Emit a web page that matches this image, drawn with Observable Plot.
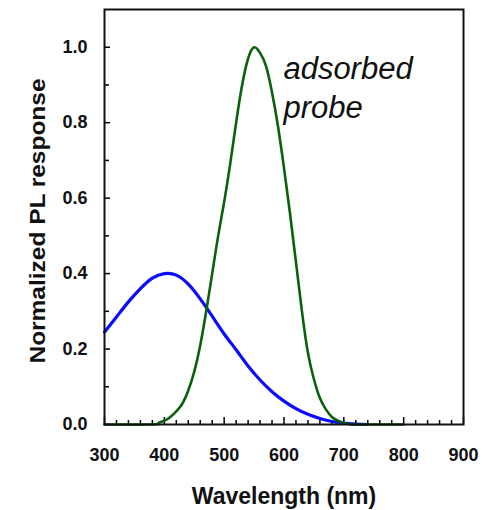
<!DOCTYPE html>
<html>
<head>
<meta charset="utf-8">
<script src="https://cdn.jsdelivr.net/npm/d3@7"></script>
<script src="https://cdn.jsdelivr.net/npm/@observablehq/plot@0.6"></script>
<style>
  html, body { margin: 0; padding: 0; background: #fff; }
  svg { font-family: "Liberation Sans", Arial, sans-serif; }
</style>
</head>
<body>
<div id="chart"></div>
<script>
// Blue curve (free probe)
const blueWavelength = [300, 320, 340, 360, 380, 400, 420, 440, 460, 480, 500, 520, 540, 560, 580, 600, 620, 640, 660, 680, 700, 720, 740];
const blueValue      = [0.245, 0.285, 0.325, 0.36, 0.388, 0.40, 0.396, 0.372, 0.333, 0.287, 0.24, 0.198, 0.155, 0.118, 0.087, 0.062, 0.042, 0.027, 0.016, 0.008, 0.004, 0.001, 0];

// Green curve (adsorbed probe)
const greenWavelength = [300, 380, 390, 400, 410, 420, 430, 440, 450, 460, 470, 480, 490, 500, 510, 520, 530, 540, 550, 560, 570, 580, 590, 600, 610, 620, 630, 640, 650, 660, 670, 680, 690, 700, 710, 720, 800];
const greenValue      = [0, 0, 0.004, 0.01, 0.02, 0.035, 0.055, 0.09, 0.14, 0.21, 0.30, 0.40, 0.50, 0.59, 0.69, 0.80, 0.90, 0.97, 1.0, 0.985, 0.95, 0.88, 0.79, 0.68, 0.56, 0.43, 0.30, 0.19, 0.12, 0.07, 0.04, 0.02, 0.01, 0.004, 0.001, 0, 0];

// Ticks
const xMajorTicks = [300, 400, 500, 600, 700, 800, 900];
const xMinorTicks = d3.range(300, 901, 20).filter(v => v % 100 !== 0);
const yMajorTicks = [0, 0.2, 0.4, 0.6, 0.8, 1.0];
const yMinorTicks = [0.1, 0.3, 0.5, 0.7, 0.9];

const xLabel = "Wavelength (nm)";
const yLabel = "Normalized PL response";
const annotation = ["adsorbed", "probe"];

const blue = blueWavelength.map((w, i) => ({w, v: blueValue[i]}));
const green = greenWavelength.map((w, i) => ({w, v: greenValue[i]}));

const W = 490, H = 510;
const mL = 104, mR = 27, mT = 9, mB = 86;
const fw = W - mL - mR, fh = H - mT - mB;

const chart = Plot.plot({
  width: W,
  height: H,
  marginLeft: mL,
  marginRight: mR,
  marginTop: mT,
  marginBottom: mB,
  style: {fontFamily: "'Liberation Sans', Arial, sans-serif", background: "#fff"},
  x: {domain: [300, 900], type: "linear"},
  y: {domain: [0, 1.1], type: "linear"},
  marks: [
    Plot.axisX(xMajorTicks, {tickSize: 0, tickPadding: 24, fontSize: 18, fontWeight: "bold", fill: "#111", label: null, tickFormat: d3.format("d")}),
    Plot.axisY(yMajorTicks, {tickSize: 0, tickPadding: 17, fontSize: 18, fontWeight: "bold", fill: "#111", label: null, tickFormat: d3.format(".1f")}),
    Plot.tickX(xMajorTicks, {x: d => d, stroke: "#000", strokeWidth: 1.5, insetTop: fh - 7}),
    Plot.tickX(xMinorTicks, {x: d => d, stroke: "#000", strokeWidth: 1.5, insetTop: fh - 4}),
    Plot.tickY(yMajorTicks, {y: d => d, stroke: "#000", strokeWidth: 1.5, insetRight: fw - 6}),
    Plot.tickY(yMinorTicks, {y: d => d, stroke: "#000", strokeWidth: 1.5, insetRight: fw - 5}),
    Plot.line(blue, {x: "w", y: "v", stroke: "#0a0aff", strokeWidth: 3.2, curve: "natural"}),
    Plot.line(green, {x: "w", y: "v", stroke: "#0b600b", strokeWidth: 2.6, curve: "natural"}),
    Plot.frame({stroke: "#111", strokeWidth: 2}),
    Plot.text([annotation[0]], {x: 599, y: 0.915, text: d => d, textAnchor: "start", lineAnchor: "bottom", fontSize: 31, fontStyle: "italic", fill: "#111"}),
    Plot.text([annotation[1]], {x: 599, y: 0.812, text: d => d, textAnchor: "start", lineAnchor: "bottom", fontSize: 31, fontStyle: "italic", fill: "#111"}),
    Plot.text([xLabel], {frameAnchor: "bottom", dy: 79, text: d => d, textAnchor: "middle", lineAnchor: "bottom", fontSize: 23, fontWeight: "bold", fill: "#111"}),
    Plot.text([yLabel], {frameAnchor: "left", dx: -67, dy: 4, rotate: -90, text: d => d, textAnchor: "middle", lineAnchor: "middle", fontSize: 22, fontWeight: "bold", fill: "#111"})
  ]
});
// stretch the y-axis title to the reference's length
d3.select(chart).selectAll("text").each(function() {
  if (this.textContent === yLabel) {
    this.setAttribute("textLength", 285);
    this.setAttribute("lengthAdjust", "spacingAndGlyphs");
  }
});
document.getElementById("chart").appendChild(chart);
</script>
</body>
</html>
